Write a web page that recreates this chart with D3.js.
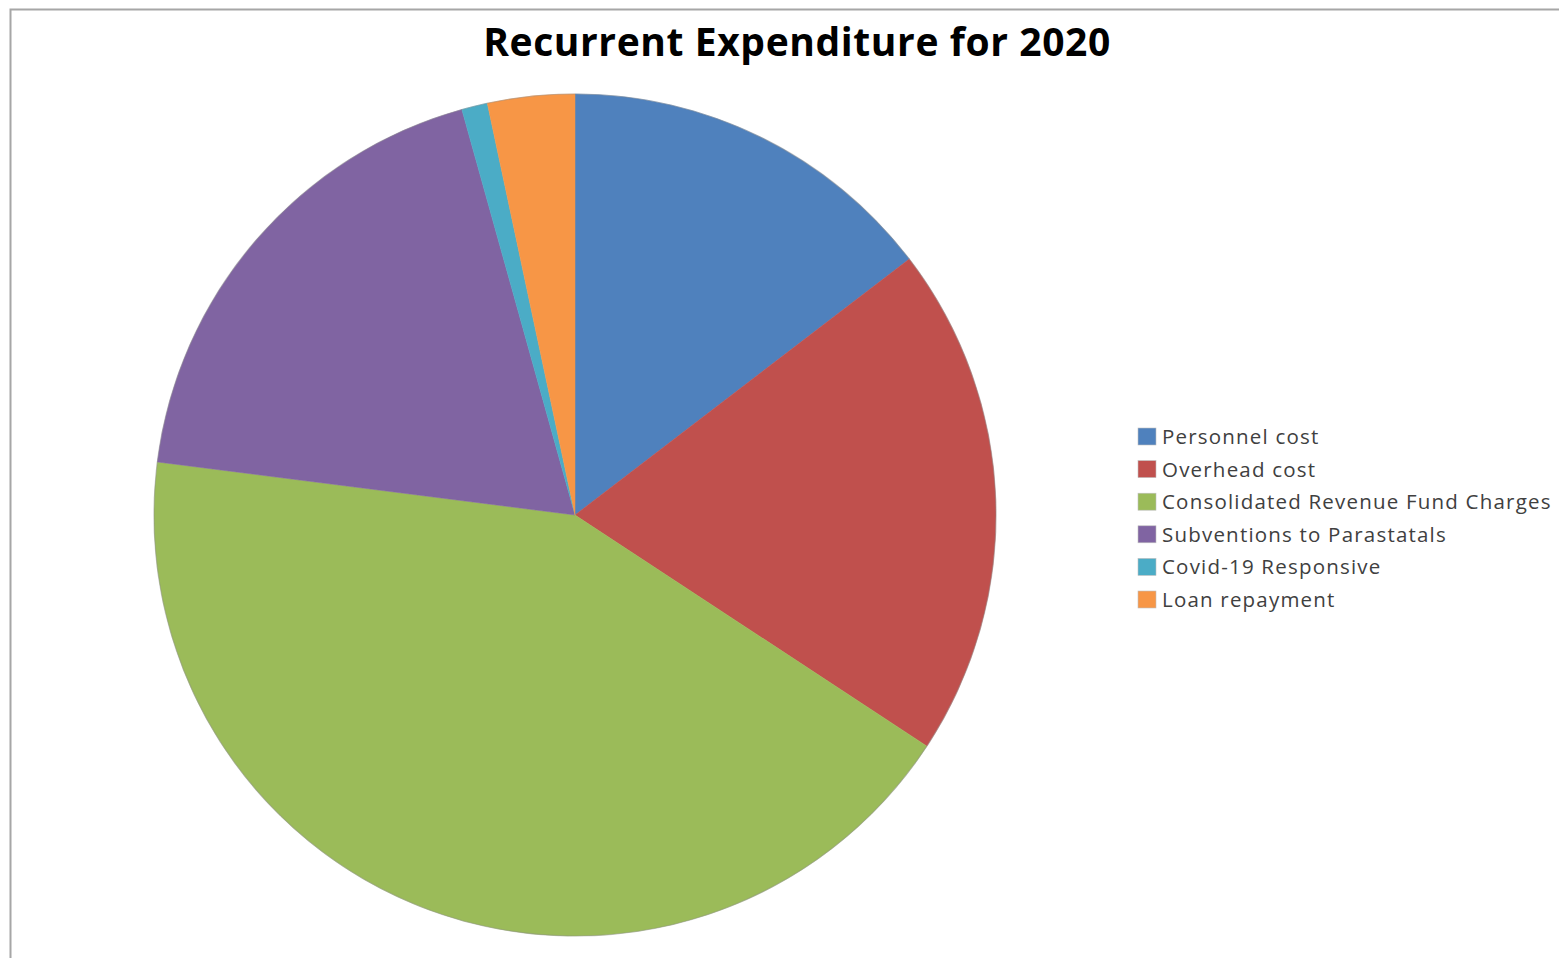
<!DOCTYPE html>
<html>
<head>
<meta charset="utf-8">
<script src="https://cdn.jsdelivr.net/npm/d3@7"></script>
<style>
  html, body { margin: 0; padding: 0; background: #fff; }
  svg { display: block; }
</style>
</head>
<body>
<svg id="chart" width="1559" height="958"></svg>
<script>
// Recurrent expenditure shares, 2020 (percent of total)
const categories = [
  "Personnel cost",
  "Overhead cost",
  "Consolidated Revenue Fund Charges",
  "Subventions to Parastatals",
  "Covid-19 Responsive",
  "Loan repayment"
];
const shares = [14.6, 19.65, 42.76, 18.66, 0.99, 3.34];
const colors = ["#4F81BD", "#C0504D", "#9BBB59", "#8064A2", "#4BACC6", "#F79646"];
const titleText = "Recurrent Expenditure for 2020";

const svg = d3.select("#chart");
const W = 1559, H = 958;

// chart area frame (left and top edges visible)
svg.append("rect")
  .attr("x", 10.5).attr("y", 9.5)
  .attr("width", W + 20).attr("height", H + 20)
  .attr("fill", "#fff")
  .attr("stroke", "#a6a6a6")
  .attr("stroke-width", 2);

// title
svg.append("text")
  .attr("x", 797).attr("y", 56)
  .attr("text-anchor", "middle")
  .attr("font-family", "'Open Sans', 'DejaVu Sans', sans-serif")
  .attr("font-weight", 700)
  .attr("font-size", 39)
  .attr("letter-spacing", 0.6)
  .attr("fill", "#000")
  .text(titleText);

// pie
const cx = 575, cy = 515, R = 421;
const data = categories.map((c, i) => ({ name: c, value: shares[i] }));
const pie = d3.pie().value(d => d.value).sort(null);
const arc = d3.arc().innerRadius(0).outerRadius(R);
const colorScale = d3.scaleOrdinal().domain(categories).range(colors);

const g = svg.append("g").attr("transform", `translate(${cx},${cy})`);
g.selectAll("path.slice")
  .data(pie(data))
  .join("path")
  .attr("class", "slice")
  .attr("d", arc)
  .attr("fill", d => colorScale(d.data.name))
  .attr("stroke", d => colorScale(d.data.name))
  .attr("stroke-width", 0.5);

// soft outer edge
g.append("circle")
  .attr("r", R)
  .attr("fill", "none")
  .attr("stroke", "#8c8c8c")
  .attr("stroke-opacity", 0.45)
  .attr("stroke-width", 1.2);

// legend
const legend = svg.append("g").attr("transform", "translate(1138,428)");
const rowH = 32.6;
const items = legend.selectAll("g.item")
  .data(categories)
  .join("g")
  .attr("class", "item")
  .attr("transform", (d, i) => `translate(0,${i * rowH})`);
items.append("rect")
  .attr("width", 18).attr("height", 17)
  .attr("fill", d => colorScale(d))
  .attr("stroke", "#bfbfbf")
  .attr("stroke-width", 0.6);
items.append("text")
  .attr("x", 24).attr("y", 16)
  .attr("font-family", "'Open Sans', 'DejaVu Sans', sans-serif")
  .attr("font-size", 20.5)
  .attr("letter-spacing", 1.2)
  .attr("fill", "#404040")
  .text(d => d);
</script>
</body>
</html>
